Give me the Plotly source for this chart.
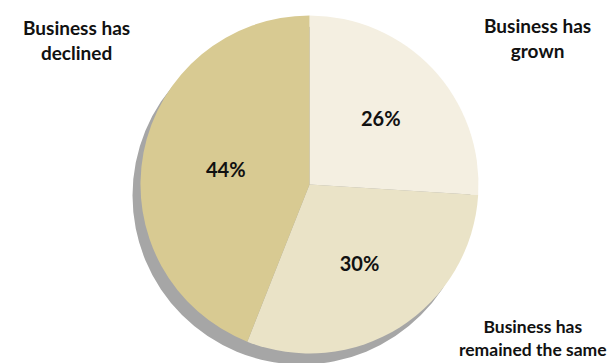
import plotly.graph_objects as go

categories = ["Business has grown", "Business has remained the same", "Business has declined"]
label_text = ["Business has<br>grown", "Business has<br>remained the same", "Business has<br>declined"]
values = [26, 30, 44]
colors = ["#F4EFE1", "#EAE3C7", "#D8CA92"]

W, H = 611, 363
cx, cy, r = 309.5, 184.5, 169
sdx, sdy = -8, 11

fig = go.Figure()
fig.add_trace(go.Pie(
    labels=categories, values=values, sort=False, direction="clockwise", rotation=0,
    marker=dict(colors=colors, line=dict(width=0)),
    texttemplate="%{percent:.0%}", textposition="inside", insidetextorientation="horizontal",
    textfont=dict(family="Lato", size=20, color="#111111", weight="bold"),
    showlegend=False, hoverinfo="label+percent",
    domain=dict(x=[(cx - r) / W, (cx + r) / W], y=[(H - cy - r) / H, (H - cy + r) / H]),
))

fig.add_shape(type="circle", xref="paper", yref="paper", layer="below",
              x0=(cx - r + sdx) / W, x1=(cx + r + sdx) / W,
              y0=(H - cy - r - sdy) / H, y1=(H - cy + r - sdy) / H,
              fillcolor="#A6A6A6", line=dict(width=0))

ann_pos = [(537, 38), (533, 338), (76, 40)]
ann_size = [19, 17.5, 19]
for t, (x, y), s in zip(label_text, ann_pos, ann_size):
    fig.add_annotation(x=x / W, y=1 - y / H, xref="paper", yref="paper", text="<b>" + t + "</b>",
                       showarrow=False, align="center", xanchor="center", yanchor="middle",
                       font=dict(family="Lato", size=s, color="#111111"))

fig.update_layout(width=W, height=H, margin=dict(l=0, r=0, t=0, b=0),
                  paper_bgcolor="white", plot_bgcolor="white")
fig.write_html("out.html")
